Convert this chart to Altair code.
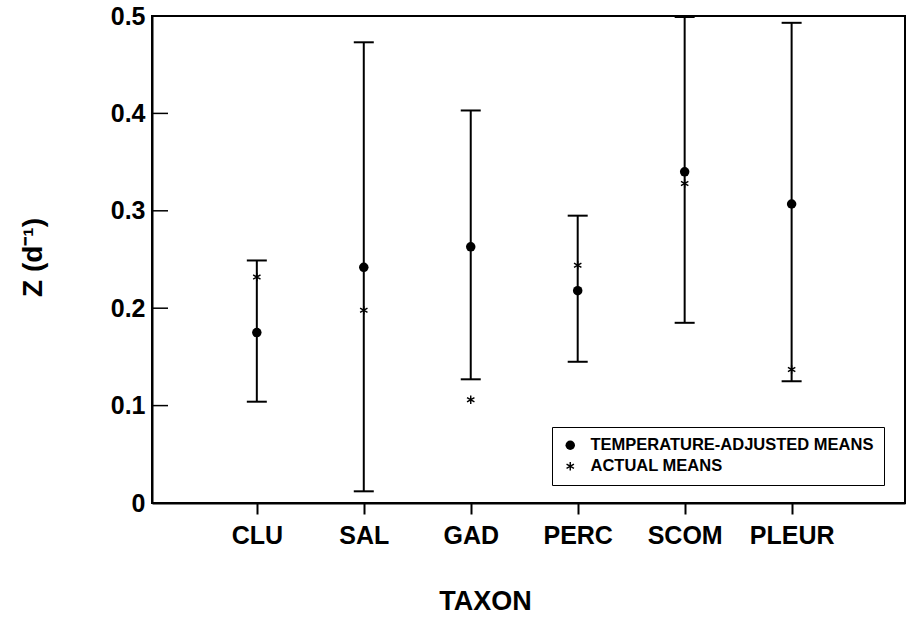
import math

import altair as alt
import pandas as pd

# Instantaneous mortality Z (per day) by larval fish taxon
taxa = ["CLU", "SAL", "GAD", "PERC", "SCOM", "PLEUR"]
adjusted_means = [0.175, 0.242, 0.263, 0.218, 0.340, 0.307]
actual_means = [0.232, 0.198, 0.106, 0.244, 0.328, 0.137]
upper = [0.249, 0.473, 0.403, 0.295, 0.499, 0.493]
lower = [0.104, 0.012, 0.127, 0.145, 0.185, 0.125]
series_names = ["TEMPERATURE-ADJUSTED MEANS", "ACTUAL MEANS"]
y_tick_values = [0, 0.1, 0.2, 0.3, 0.4, 0.5]
inner_ticks = [0.1, 0.2, 0.3, 0.4]

FONT = "Liberation Sans"
positions = list(range(1, len(taxa) + 1))

bars = pd.DataFrame({"pos": positions, "taxon": taxa, "lower": lower, "upper": upper})
points = pd.DataFrame({
    "pos": positions * 2,
    "series": [series_names[0]] * len(taxa) + [series_names[1]] * len(taxa),
    "value": adjusted_means + actual_means,
})

label_lookup = "[" + ",".join(f"'{t}'" for t in taxa) + "][datum.value - 1]"


def asterisk_path(arm=0.9, half_width=0.15):
    """Six-armed asterisk built from three filled bars, as an SVG path in symbol units."""
    parts = []
    for deg in (90, 30, -30):
        a = math.radians(deg)
        ux, uy = math.cos(a), math.sin(a)
        px, py = -uy, ux
        corners = [
            (ux * arm + px * half_width, uy * arm + py * half_width),
            (ux * arm - px * half_width, uy * arm - py * half_width),
            (-ux * arm - px * half_width, -uy * arm - py * half_width),
            (-ux * arm + px * half_width, -uy * arm + py * half_width),
        ]
        parts.append("M" + "L".join(f"{x:.3f},{y:.3f}" for x, y in corners) + "Z")
    return "".join(parts)


x_scale = alt.Scale(domain=[0.02, 7.06], nice=False, zero=False)
y_scale = alt.Scale(domain=[0, 0.5], nice=False, zero=True)

x_axis = alt.Axis(
    values=positions, labelExpr=label_lookup, grid=False,
    tickSize=11, tickWidth=2, tickColor="black",
    domainColor="black", domainWidth=2,
    labelFont=FONT, labelFontSize=25, labelFontWeight="bold", labelColor="black",
    labelPadding=9, labelBaseline="top",
    title="TAXON", titleFont=FONT, titleFontSize=27, titleFontWeight="bold",
    titleColor="black", titleX=333, titleY=106, titleBaseline="alphabetic",
    titleAnchor="start", titleAlign="center",
)
y_axis = alt.Axis(
    values=y_tick_values,
    labelExpr="datum.value == 0 ? '0' : format(datum.value, '.1f')",
    grid=False, ticks=False, tickSize=0,
    domainColor="black", domainWidth=2,
    labelFont=FONT, labelFontSize=25, labelFontWeight="bold", labelColor="black",
    labelPadding=7,
    title="Z (d\u207b\u00b9)", titleFont=FONT, titleFontSize=28, titleFontWeight="bold",
    titleColor="black", titleX=-111, titleY=241, titleBaseline="alphabetic",
    titleAngle=270, titleAlign="center", titleAnchor="start",
)

x_enc = alt.X("pos:Q", scale=x_scale, axis=x_axis)

whiskers = alt.Chart(bars).mark_rule(color="black", strokeWidth=2).encode(
    x=x_enc,
    y=alt.Y("lower:Q", scale=y_scale, axis=y_axis),
    y2="upper:Q",
)
caps_top = alt.Chart(bars).mark_tick(
    orient="horizontal", color="black", size=20, thickness=2, opacity=1
).encode(x=x_enc, y=alt.Y("upper:Q", scale=y_scale))
caps_bottom = alt.Chart(bars).mark_tick(
    orient="horizontal", color="black", size=20, thickness=2, opacity=1
).encode(x=x_enc, y=alt.Y("lower:Q", scale=y_scale))

means = alt.Chart(points).mark_point(
    filled=True, color="black", opacity=1, size=90
).encode(
    x=x_enc,
    y=alt.Y("value:Q", scale=y_scale),
    shape=alt.Shape(
        "series:N",
        scale=alt.Scale(domain=series_names, range=["circle", asterisk_path()]),
        legend=alt.Legend(
            title=None, orient="none", legendX=400, legendY=411,
            strokeColor="black", padding=10, fillColor="white",
            labelFont=FONT, labelFontSize=16.5, labelFontWeight="bold", labelColor="black",
            labelLimit=0, labelOffset=12, rowPadding=4, symbolSize=90,
            symbolFillColor="black", symbolOpacity=1,
        ),
    ),
)

# Short inward-pointing ticks along the left axis
y_inner = alt.Chart(pd.DataFrame({"y": inner_ticks})).mark_tick(
    orient="horizontal", color="black", size=16, thickness=1.5, opacity=1
).encode(x=alt.value(8), y=alt.Y("y:Q", scale=y_scale))

chart = alt.layer(whiskers, caps_top, caps_bottom, y_inner, means).properties(
    width=753, height=487,
    padding={"left": 152, "top": 16, "right": 1, "bottom": 115},
    autosize="none",
    background="white",
).configure_view(stroke="black", strokeWidth=2)

chart.save("out.html", embed_options={"renderer": "svg", "actions": False})
